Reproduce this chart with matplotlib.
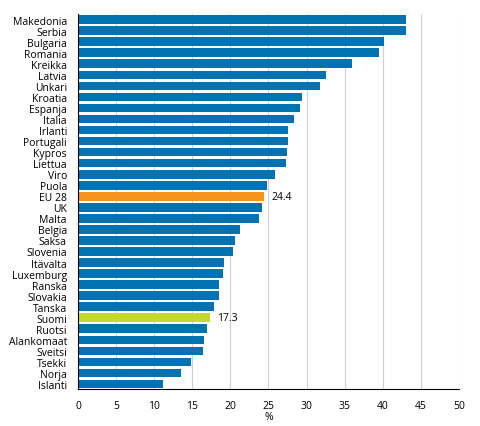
import matplotlib
matplotlib.use("Agg")
import matplotlib.pyplot as plt

countries = ["Makedonia", "Serbia", "Bulgaria", "Romania", "Kreikka", "Latvia", "Unkari",
             "Kroatia", "Espanja", "Italia", "Irlanti", "Portugali", "Kypros", "Liettua",
             "Viro", "Puola", "EU 28", "UK", "Malta", "Belgia", "Saksa", "Slovenia",
             "Itävalta", "Luxemburg", "Ranska", "Slovakia", "Tanska", "Suomi", "Ruotsi",
             "Alankomaat", "Sveitsi", "Tsekki", "Norja", "Islanti"]
values = [43.1, 43.1, 40.1, 39.5, 36.0, 32.6, 31.8, 29.4, 29.2, 28.3, 27.6, 27.5, 27.4, 27.3,
          25.9, 24.8, 24.4, 24.1, 23.8, 21.2, 20.6, 20.4, 19.2, 19.0, 18.5, 18.5, 17.9, 17.3,
          16.9, 16.5, 16.4, 14.8, 13.5, 11.2]
highlight = {"EU 28": "#F7941E", "Suomi": "#C4D82E"}
labelled = {"EU 28": "24.4", "Suomi": "17.3"}
xticks = [0, 5, 10, 15, 20, 25, 30, 35, 40, 45, 50]
xlabel = "%"

plt.rcParams['font.family'] = ['Open Sans', 'DejaVu Sans']
fig = plt.figure(figsize=(4.8, 4.27), dpi=100)
ax = fig.add_axes([0.1625, 0.0867, 0.7937, 0.878])

ys = list(range(len(countries)))
colors = [highlight.get(c, "#0072B2") for c in countries]
ax.barh(ys, values, height=0.78, color=colors, zorder=3)
for y, c, v in zip(ys, countries, values):
    if c in labelled:
        ax.text(v + 1.0, y, labelled[c], va="center", ha="left", fontsize=7.5)

ax.set_yticks(ys)
ax.set_yticklabels(countries, fontsize=7.5)
ax.set_ylim(len(countries) - 0.55, -0.5)
ax.set_xlim(0, 50)
ax.set_xticks(xticks)
ax.set_xticklabels([str(t) for t in xticks], fontsize=7.5)
ax.set_xlabel(xlabel, fontsize=7.5, labelpad=0)
ax.tick_params(axis="y", length=0, pad=8)
ax.tick_params(axis="x", length=0, pad=8)
ax.grid(axis="x", color="#D0D0D0", linewidth=0.8, zorder=0)
for s in ["top", "right"]:
    ax.spines[s].set_visible(False)
ax.spines["left"].set_color("black")
ax.spines["bottom"].set_color("black")
ax.spines["left"].set_linewidth(0.8)
ax.spines["bottom"].set_linewidth(0.8)
ax.spines["left"].set_zorder(4)

fig.savefig("out.png", dpi=100)
